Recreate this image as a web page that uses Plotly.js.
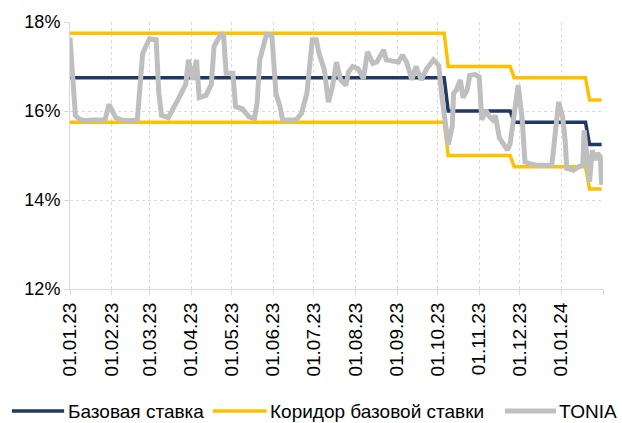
<!DOCTYPE html>
<html>
<head>
<meta charset="utf-8">
<script src="https://cdn.plot.ly/plotly-3.0.1.min.js"></script>
<style>html,body{margin:0;padding:0;background:#fff;}#chart{width:622px;height:423px;}</style>
</head>
<body>
<div id="chart"></div>
<script>
const rateDates = ['2023-01-01','2023-10-06','2023-10-09','2023-11-24','2023-11-27','2024-01-19','2024-01-22','2024-01-31'];
const baseRate = [16.75,16.75,16.0,16.0,15.75,15.75,15.25,15.25];
const corridorUpper = [17.75,17.75,17.0,17.0,16.75,16.75,16.25,16.25];
const corridorLower = [15.75,15.75,15.0,15.0,14.75,14.75,14.25,14.25];

const toniaDates = ['2023-01-01','2023-01-05','2023-01-08','2023-01-12','2023-01-17','2023-01-22','2023-01-27','2023-01-30',
'2023-02-04','2023-02-08','2023-02-14','2023-02-20','2023-02-24','2023-03-01','2023-03-06','2023-03-08','2023-03-10',
'2023-03-15','2023-03-18','2023-03-23','2023-03-28','2023-03-30','2023-04-02','2023-04-05','2023-04-07','2023-04-12',
'2023-04-16','2023-04-18','2023-04-22','2023-04-25','2023-04-27','2023-05-02','2023-05-04','2023-05-09','2023-05-14',
'2023-05-18','2023-05-20','2023-05-22','2023-05-27','2023-05-31','2023-06-03','2023-06-06','2023-06-08','2023-06-18',
'2023-06-22','2023-06-26','2023-06-30','2023-07-03','2023-07-05','2023-07-09','2023-07-12','2023-07-15','2023-07-18',
'2023-07-21','2023-07-25','2023-07-27','2023-07-30','2023-08-03','2023-08-07','2023-08-10','2023-08-14','2023-08-17',
'2023-08-22','2023-08-24','2023-08-29','2023-09-02','2023-09-05','2023-09-08','2023-09-12','2023-09-15','2023-09-19',
'2023-09-23','2023-09-28','2023-10-02','2023-10-04','2023-10-07','2023-10-09','2023-10-12','2023-10-13','2023-10-15',
'2023-10-18','2023-10-20','2023-10-23','2023-10-25','2023-10-29','2023-11-01','2023-11-03','2023-11-06','2023-11-08',
'2023-11-11','2023-11-13','2023-11-16','2023-11-19','2023-11-22','2023-11-24','2023-11-27','2023-11-30','2023-12-03',
'2023-12-05','2023-12-09','2023-12-14','2023-12-25','2023-12-28','2023-12-30','2024-01-02','2024-01-04','2024-01-05',
'2024-01-10','2024-01-14','2024-01-17','2024-01-18','2024-01-20','2024-01-22','2024-01-24','2024-01-26','2024-01-28',
'2024-01-30','2024-01-31'];
const toniaValues = [17.65,15.9,15.82,15.78,15.8,15.79,15.8,16.15,
15.85,15.8,15.78,15.8,17.3,17.62,17.6,16.4,15.9,
15.85,16.0,16.3,16.6,17.15,16.7,17.15,16.3,16.35,
16.6,17.45,17.67,17.75,16.85,16.85,16.1,16.05,15.87,
15.83,16.17,17.15,17.72,17.7,16.4,16.1,15.8,15.8,
15.95,16.4,17.6,17.6,17.3,16.92,16.2,16.55,17.1,
16.7,16.58,16.88,17.0,16.95,16.73,17.33,17.07,17.1,
17.37,17.15,17.12,17.1,17.26,17.1,16.7,17.0,16.7,
16.95,17.15,17.02,16.4,15.57,15.24,15.65,16.4,16.47,
16.7,16.3,16.47,16.8,16.82,16.77,15.8,16.02,15.9,
15.8,15.9,15.4,15.24,15.12,15.27,16.02,16.58,15.8,
14.86,14.81,14.78,14.78,15.65,16.2,15.87,15.3,14.71,
14.67,14.75,14.78,15.57,14.9,14.41,15.12,14.9,15.05,
14.97,14.34];

const tickDates = ['2023-01-01','2023-02-01','2023-03-01','2023-04-01','2023-05-01','2023-06-01','2023-07-01',
'2023-08-01','2023-09-01','2023-10-01','2023-11-01','2023-12-01','2024-01-01','2024-02-01'];
const tickLabels = ['01.01.23','01.02.23','01.03.23','01.04.23','01.05.23','01.06.23','01.07.23',
'01.08.23','01.09.23','01.10.23','01.11.23','01.12.23','01.01.24',''];

const seriesNames = ['Базовая ставка', 'Коридор базовой ставки', 'TONIA'];

const NAVY = '#1F3864', GOLD = '#FFC000', GREY = '#BFBFBF';
const FONT = 'Liberation Sans, Arial, sans-serif';

const traces = [
  {x: rateDates, y: baseRate, type: 'scatter', mode: 'lines', name: seriesNames[0],
   line: {color: NAVY, width: 3.5}},
  {x: rateDates, y: corridorUpper, type: 'scatter', mode: 'lines', name: seriesNames[1],
   line: {color: GOLD, width: 3.5}},
  {x: rateDates, y: corridorLower, type: 'scatter', mode: 'lines', name: seriesNames[1],
   line: {color: GOLD, width: 3.5}},
  {x: toniaDates, y: toniaValues, type: 'scatter', mode: 'lines', name: seriesNames[2],
   line: {color: GREY, width: 5}}
];

// legend drawn below the plot (paper coordinates)
const legY = -0.457;
const legItems = [
  {x0: -0.109, x1: -0.011, tx: -0.006, color: NAVY, w: 3.5, name: seriesNames[0]},
  {x0: 0.268, x1: 0.369, tx: 0.373, color: GOLD, w: 3.5, name: seriesNames[1]},
  {x0: 0.816, x1: 0.912, tx: 0.916, color: GREY, w: 5, name: seriesNames[2]}
];
const shapes = legItems.map(it => ({type: 'line', xref: 'paper', yref: 'paper',
  x0: it.x0, x1: it.x1, y0: legY, y1: legY, line: {color: it.color, width: it.w}}));
const annotations = legItems.map(it => ({xref: 'paper', yref: 'paper', x: it.tx, y: legY,
  xanchor: 'left', yanchor: 'middle', showarrow: false, text: it.name, borderpad: 0,
  font: {family: FONT, size: 19, color: '#000'}}));

const layout = {
  width: 622, height: 423, autosize: false,
  margin: {l: 70, r: 19, t: 22, b: 134, autoexpand: false},
  paper_bgcolor: '#fff', plot_bgcolor: '#fff',
  font: {family: FONT, size: 18, color: '#000'},
  showlegend: false,
  shapes: shapes,
  annotations: annotations,
  xaxis: {type: 'date', range: ['2023-01-01', '2024-02-01'], automargin: false,
          tickmode: 'array', tickvals: tickDates, ticktext: tickLabels, tickangle: -90,
          showgrid: true, gridcolor: '#D9D9D9', griddash: 'dot', gridwidth: 1,
          showline: true, linecolor: '#D9D9D9', linewidth: 1,
          ticks: 'outside', ticklen: 5, tickcolor: '#D9D9D9',
          tickfont: {family: FONT, size: 19, color: '#000'}, zeroline: false, fixedrange: true},
  yaxis: {range: [12, 18], tickmode: 'array', tickvals: [12, 14, 16, 18], ticktext: ['12%','14%','16%','18%'],
          automargin: false,
          showgrid: true, gridcolor: '#D9D9D9', griddash: 'dot', gridwidth: 1,
          showline: true, linecolor: '#D9D9D9', linewidth: 1,
          ticks: 'outside', ticklen: 5, tickcolor: '#D9D9D9',
          tickfont: {family: FONT, size: 18, color: '#000'}, zeroline: false, fixedrange: true}
};

Plotly.newPlot('chart', traces, layout, {displayModeBar: false, staticPlot: true});
</script>
</body>
</html>
